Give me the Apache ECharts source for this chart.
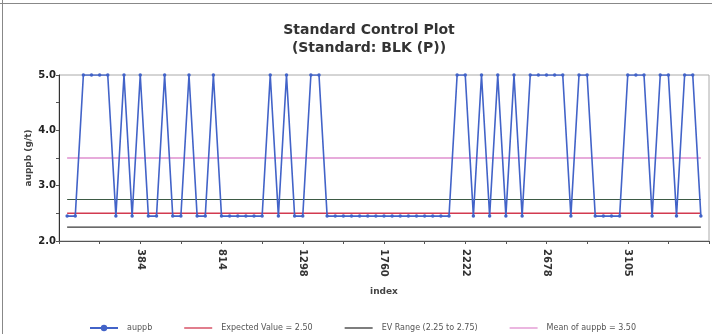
<!DOCTYPE html>
<html>
<head>
<meta charset="utf-8">
<title>Standard Control Plot</title>
<script src="https://cdn.jsdelivr.net/npm/echarts@6/dist/echarts.min.js"></script>
<style>
  html, body { margin: 0; padding: 0; background: #fff; }
  #chart { width: 712px; height: 334px; }
</style>
</head>
<body>
<div id="chart"></div>
<script>
// values, one per sample (H = 5.0 cap, L = 2.45)
const auppb = [
  2.45, 2.45, 5, 5, 5, 5, 2.45, 5, 2.45, 5,
  2.45, 2.45, 5, 2.45, 2.45, 5, 2.45, 2.45, 5, 2.45,
  2.45, 2.45, 2.45, 2.45, 2.45, 5, 2.45, 5, 2.45, 2.45,
  5, 5, 2.45, 2.45, 2.45, 2.45, 2.45, 2.45, 2.45, 2.45,
  2.45, 2.45, 2.45, 2.45, 2.45, 2.45, 2.45, 2.45, 5, 5,
  2.45, 5, 2.45, 5, 2.45, 5, 2.45, 5, 5, 5,
  5, 5, 2.45, 5, 5, 2.45, 2.45, 2.45, 2.45, 5,
  5, 5, 2.45, 5, 5, 2.45, 5, 5, 2.45
]
const tickLabels = ['384', '814', '1298', '1760', '2222', '2678', '3105']
const expectedValue = 2.5
const evRange = [2.25, 2.75]
const meanValue = 3.5

// one empty slot on each side so the samples sit inside the frame
const slotCount = auppb.length + 2
const categories = []
for (let i = 0; i < slotCount; i++) {
  const k = i / 10 - 1
  categories.push(i % 10 === 0 && tickLabels[k] ? tickLabels[k] : 'x' + i)
}

function pad(values) {
  return [null].concat(values, [null])
}
function flat(v) {
  return pad(auppb.map(() => v))
}

const font = 'DejaVu Sans'
const lineIcon = 'path://M0,4H30V5.4H0z'
const chart = echarts.init(document.getElementById('chart'))

chart.setOption({
  backgroundColor: '#fff',
  animation: false,
  title: {
    text: 'Standard Control Plot\n(Standard: BLK (P))',
    left: 364,
    textAlign: 'center',
    top: 16,
    textStyle: {
      fontFamily: font,
      fontSize: 14,
      fontWeight: 'bold',
      color: '#333',
      lineHeight: 18
    }
  },
  legend: {
    left: 84,
    top: 319,
    itemWidth: 28,
    itemHeight: 8,
    itemGap: 32,
    textStyle: { fontFamily: font, fontSize: 8, color: '#555', padding: [0, 0, 0, 4] },
    data: [
      { name: 'auppb' },
      { name: 'Expected Value = 2.50', icon: lineIcon },
      { name: 'EV Range (2.25 to 2.75)', icon: lineIcon },
      { name: 'Mean of auppb = 3.50', icon: lineIcon }
    ]
  },
  grid: {
    left: 59,
    right: 3,
    top: 75,
    bottom: 93,
    show: true,
    borderColor: '#aaa',
    borderWidth: 1
  },
  xAxis: {
    type: 'category',
    data: categories,
    boundaryGap: false,
    name: 'index',
    nameLocation: 'middle',
    nameGap: 46,
    nameTextStyle: { fontFamily: font, fontSize: 9, fontWeight: 'bold', color: '#444' },
    axisLine: { lineStyle: { color: '#555', width: 1 } },
    axisTick: {
      length: 3,
      interval: (i) => i % 5 === 0,
      lineStyle: { color: '#555' }
    },
    axisLabel: {
      interval: (i) => i % 10 === 0 && i > 0 && i < slotCount - 1,
      rotate: -90,
      margin: 8,
      fontFamily: font,
      fontSize: 10,
      fontWeight: 'bold',
      color: '#333'
    },
    splitLine: { show: false }
  },
  yAxis: {
    type: 'value',
    min: 2,
    max: 5,
    interval: 0.5,
    name: 'auppb (g/t)',
    nameLocation: 'middle',
    nameGap: 26,
    nameMoveOverlap: false,
    nameTextStyle: { fontFamily: font, fontSize: 9, fontWeight: 'bold', color: '#444' },
    axisLine: { show: true, lineStyle: { color: '#333', width: 1 } },
    axisTick: { show: true, length: 3, lineStyle: { color: '#555' } },
    axisLabel: {
      formatter: (v) => (v % 1 === 0 ? v.toFixed(1) : ''),
      fontFamily: font,
      fontSize: 10,
      fontWeight: 'bold',
      color: '#222',
      margin: 3
    },
    splitLine: { show: false }
  },
  series: [
    {
      name: 'Expected Value = 2.50',
      type: 'line',
      data: flat(expectedValue),
      symbol: 'none',
      lineStyle: { color: '#d23a50', width: 1.5 },
      itemStyle: { color: '#d23a50' },
      z: 2
    },
    {
      name: 'EV Range (2.25 to 2.75)',
      type: 'line',
      data: flat(evRange[0]),
      symbol: 'none',
      lineStyle: { color: '#3a3a3a', width: 1.2 },
      itemStyle: { color: '#3a3a3a' },
      z: 2
    },
    {
      name: 'EV Range (2.25 to 2.75)',
      type: 'line',
      data: flat(evRange[1]),
      symbol: 'none',
      lineStyle: { color: '#3d5a44', width: 1.2 },
      itemStyle: { color: '#3a3a3a' },
      z: 2
    },
    {
      name: 'Mean of auppb = 3.50',
      type: 'line',
      data: flat(meanValue),
      symbol: 'none',
      lineStyle: { color: '#e090d0', width: 1.3 },
      itemStyle: { color: '#e090d0' },
      z: 2
    },
    {
      name: 'auppb',
      type: 'line',
      data: pad(auppb),
      symbol: 'circle',
      symbolSize: 3.5,
      showAllSymbol: true,
      lineStyle: { color: '#4263c8', width: 1.6 },
      itemStyle: { color: '#4263c8' },
      z: 3
    }
  ],
  graphic: [
    {
      type: 'line',
      shape: { x1: 2.5, y1: 0, x2: 2.5, y2: 334 },
      style: { stroke: '#888', lineWidth: 1 }
    },
    {
      type: 'line',
      shape: { x1: 0, y1: 3.5, x2: 712, y2: 3.5 },
      style: { stroke: '#888', lineWidth: 1 }
    }
  ]
})
</script>
</body>
</html>
